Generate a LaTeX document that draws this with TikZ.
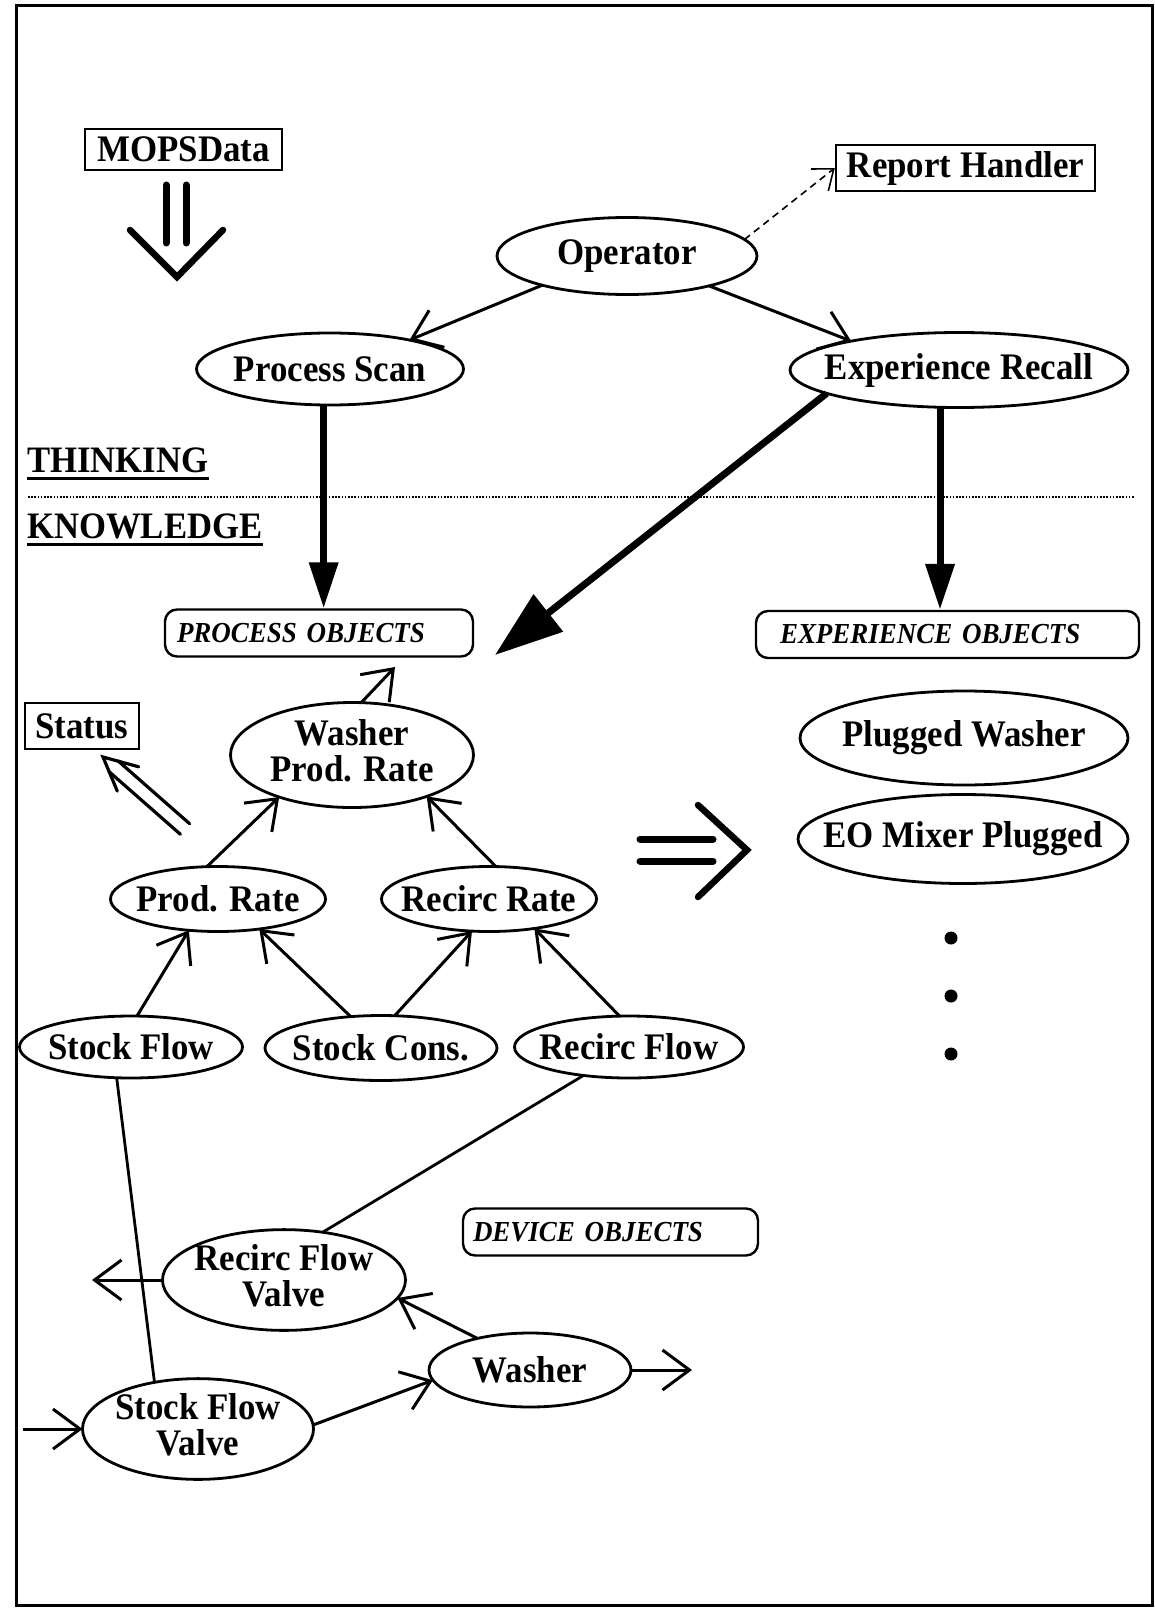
\documentclass[tikz,border=0pt]{standalone}
\usepackage{fontspec}
\setmainfont{Liberation Serif}[FakeStretch=0.93]
\usetikzlibrary{shapes.geometric,arrows.meta,calc}

% centre a label without letting it widen the oval around it
\newcommand\ctr[1]{\makebox[0pt]{#1}}
\newcommand\ctrii[2]{\makebox[0pt]{\begin{tabular}{@{}c@{}}#1\\#2\end{tabular}}}

\begin{document}
\begin{tikzpicture}[x=1pt,y=-1pt,
  every node/.style={font=\fontsize{37.5}{32}\selectfont\bfseries},
  oval/.style={ellipse, draw, line width=2.8pt, inner sep=0pt, outer sep=0pt},
  tag/.style={rectangle, draw, line width=2.4pt, inner sep=0pt},
  kbox/.style={rectangle, rounded corners=12pt, draw, line width=2.4pt,
    font=\fontsize{29}{30}\selectfont\bfseries\itshape, align=left,
    minimum height=47pt, inner ysep=0pt},
  heading/.style={anchor=base west, inner sep=0pt, font=\fontsize{37.3}{38}\selectfont\bfseries},
  link/.style={line width=3pt, -{Straight Barb[length=27pt,width=40pt]}},
  plain/.style={line width=2.8pt},
  heavy/.style={line width=7pt, -{Triangle[length=46pt,width=28pt]}},
  bigheavy/.style={line width=7pt, -{Triangle[length=68pt,width=46pt]}},
  fatstroke/.style={line width=7pt, line cap=round},
  chevron/.style={line width=6.5pt, line cap=round},
  hollow/.style={line width=3.2pt, line cap=round},
]
\useasboundingbox (0,0) rectangle (1154,1608);
\draw[line width=3pt] (16,6) rectangle (1152,1605);

% ---- thinking level ----
\node[tag, minimum width=197pt, minimum height=41pt] (mops) at (183.5,149.5) {MOPSData};
\node[tag, minimum width=259pt, minimum height=46pt] (rh) at (965.5,168) {Report Handler};
\node[oval, minimum width=260pt, minimum height=77pt] (op) at (627,256) {\ctr{Operator}};
\node[oval, minimum width=267pt, minimum height=72pt] (ps) at (330,369) {\ctr{Process Scan}};
\node[oval, minimum width=338pt, minimum height=75pt] (er) at (959,370) {\ctr{Experience Recall}};

% data feed symbol under MOPSData
\draw[fatstroke] (166,185) -- (166,243);
\draw[fatstroke] (186,185) -- (186,243);
\draw[chevron] (130,230) -- (177,277) -- (223,230);

\draw[line width=1.6pt, dash pattern=on 7pt off 5pt,
      -{Straight Barb[length=18pt,width=28pt]}] (op.8) -- (rh.west);
\draw[link] (op.199) -- (ps.20);
\draw[link] (op.340) -- (er.165);

% ---- level separator ----
\node[heading] (think) at (27,472) {THINKING};
\draw[line width=3pt] ($(think.base west)+(0,6)$) -- ($(think.base east)+(0,6)$);
\coordinate (sepL) at (28,497);
\coordinate (sepR) at (1135,497);
\draw[line width=1.6pt, dash pattern=on 1.6pt off 1.6pt] (sepL) -- (sepR);
\node[heading] (know) at (27,538) {KNOWLEDGE};
\draw[line width=3pt] ($(know.base west)+(0,6)$) -- ($(know.base east)+(0,6)$);

% ---- object groups ----
\node[kbox, text width=284pt, inner xsep=12pt] (po) at (319,633) {PROCESS OBJECTS};
\node[kbox, text width=335pt, inner xsep=24pt] (eo) at (947.5,634.5) {EXPERIENCE OBJECTS};
\node[kbox, text width=275pt, inner xsep=10pt] (do) at (610.5,1232) {DEVICE OBJECTS};

\coordinate (ptip) at (495,655);
\draw[heavy] (ps.-100) -- (ps.-100 |- po.north);
\draw[heavy] (er.-117) -- (er.-117 |- eo.north);
\draw[bigheavy] (er.190) -- (ptip);

% ---- process objects ----
\node[tag, minimum width=114pt, minimum height=46pt] (st) at (82,726) {Status};
\node[oval, minimum width=243pt, minimum height=105pt] (wpr) at (352,755) {\ctrii{Washer}{Prod. Rate}};
\node[oval, minimum width=215pt, minimum height=65pt] (pr) at (218,899) {\ctr{Prod. Rate}};
\node[oval, minimum width=215pt, minimum height=65pt] (rr) at (489,899) {\ctr{Recirc Rate}};
\node[oval, minimum width=223pt, minimum height=62pt] (sf) at (131,1047) {\ctr{Stock Flow}};
\node[oval, minimum width=232pt, minimum height=65pt] (sc) at (381,1048) {\ctr{Stock Cons.}};
\node[oval, minimum width=229pt, minimum height=62pt] (rf) at (629,1047) {\ctr{Recirc Flow}};

\coordinate (poin) at (395,667);
\draw[link] (wpr.80) -- (poin);
\draw[link] (pr.109) -- (wpr.210);
\draw[link] (rr.78) -- (wpr.-29);
\draw[link] (sf.79) -- (pr.227);
\draw[link] (sc.134) -- (pr.-36);
\draw[link] (sc.67) -- (rr.242);
\draw[link] (rf.107) -- (rr.-33);

% hollow status arrow
\draw[hollow] (108.9,771.5) -- (180.4,834.3);
\draw[hollow] (118.1,760.9) -- (189.6,823.7);
\draw[hollow, line join=miter] (138.7,766.8) -- (103,757) -- (117.3,791.1);

% ---- device objects ----
\node[oval, minimum width=243pt, minimum height=100pt] (rfv) at (284,1280) {\ctrii{Recirc Flow}{Valve}};
\node[oval, minimum width=202pt, minimum height=74pt] (wa) at (530,1370) {\ctr{Washer}};
\node[oval, minimum width=231pt, minimum height=97pt] (sfv) at (198,1429) {\ctrii{Stock Flow}{Valve}};

\draw[plain] (sf.245) -- (sfv.133);
\draw[plain] (rf.212) -- (rfv.51);
\draw[link] (wa.149) -- (rfv.-9);
\draw[link] (sfv.2) -- (wa.186);
\coordinate (wout) at (692,1370);
\coordinate (sin) at (23,1429);
\coordinate (rout) at (92,1280);
\draw[link] (wa.east) -- (wout);
\draw[link] (sin) -- (sfv.west);
\draw[link] (rfv.west) -- (rout);

% ---- experience objects ----
\draw[fatstroke] (640,839) -- (713,839);
\draw[fatstroke] (640,861) -- (713,861);
\draw[chevron] (698,805) -- (747,850) -- (698,897);

\node[oval, minimum width=328pt, minimum height=94pt] (pw) at (964,738) {\ctr{Plugged Washer}};
\node[oval, minimum width=330pt, minimum height=89pt] (eom) at (963,839) {\ctr{EO Mixer Plugged}};
\fill (951,938) circle (6.5);
\fill (951,996) circle (6.5);
\fill (951,1054) circle (6.5);
\end{tikzpicture}
\end{document}
